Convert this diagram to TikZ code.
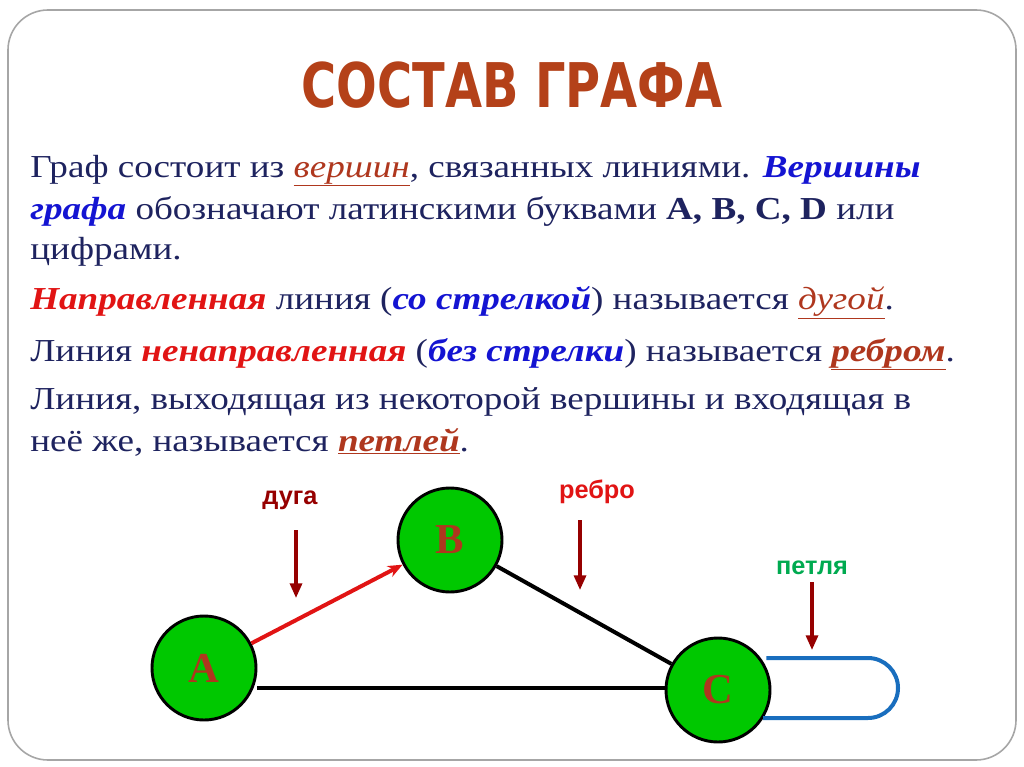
\documentclass[tikz,border=0pt]{standalone}
\usepackage{fontspec}
\setmainfont{Liberation Serif}
\newfontfamily\titlef{DejaVu Sans Condensed}
\newfontfamily\labf{Liberation Sans}
\usetikzlibrary{arrows.meta,shapes.geometric}
\definecolor{navy}{RGB}{30,35,95}
\definecolor{brn}{RGB}{175,55,30}
\definecolor{tbrn}{RGB}{180,65,25}
\definecolor{bl}{RGB}{20,20,210}
\definecolor{rd}{RGB}{225,20,20}
\definecolor{gr}{RGB}{0,200,0}
\definecolor{dred}{RGB}{150,0,0}
\definecolor{lgr}{RGB}{0,170,80}
\definecolor{lblue}{RGB}{25,110,190}
\newcommand{\uit}[1]{\textcolor{brn}{\underline{\textit{#1}}}}
\newcommand{\bit}[2]{\textcolor{#1}{\textbf{\textit{#2}}}}
\begin{document}
\begin{tikzpicture}[x=0.75pt,y=-0.75pt,
  txt/.style={anchor=base west,inner sep=0,text=navy,xscale=1.16,font=\fontsize{24}{28}\selectfont},
  vert/.style={ellipse,draw=black,line width=2.2pt,fill=gr,minimum width=104*0.75pt,minimum height=104*0.75pt,inner sep=0,font=\fontsize{32}{32}\selectfont\bfseries,text=brn},
  ptr/.style={draw=dred,line width=2.4pt,-{Triangle[length=11pt,width=9pt]}},
  lab/.style={font=\labf\bfseries\fontsize{19}{19}\selectfont,inner sep=0}]
\useasboundingbox (0,0) rectangle (1024,767);
\draw[gray!70,line width=1.2pt,rounded corners=30pt] (8,10) rectangle (1016,760);
\node[font=\titlef\bfseries\fontsize{42}{42}\selectfont,text=tbrn,xscale=0.95,yscale=1.1] (title) at (512,85) {СОСТАВ ГРАФА};
\node[txt] (l1) at (30,177) {Граф состоит из \uit{вершин}, связанных линиями. \bit{bl}{Вершины}};
\node[txt] (l2) at (30,219) {\bit{bl}{графа} обозначают латинскими буквами \textbf{A, B, C, D} или};
\node[txt] (l3) at (30,259) {цифрами.};
\node[txt] (l4) at (30,309) {\bit{rd}{Направленная} линия (\bit{bl}{со стрелкой}) называется \uit{дугой}.};
\node[txt] (l5) at (30,361) {Линия \bit{rd}{ненаправленная} (\bit{bl}{без стрелки}) называется \textbf{\uit{ребром}}.};
\node[txt] (l6) at (30,409) {Линия, выходящая из некоторой вершины и входящая в};
\node[txt] (l7) at (30,451) {неё же, называется \textbf{\uit{петлей}}.};
\node[vert] (A) at (204,668) {A};
\node[vert] (B) at (450,540) {B};
\node[vert] (C) at (718,690) {C};
\draw[lblue,line width=3pt] (C.east) ++(-5,-32) -- (868,658) arc[start angle=90,end angle=-90,radius=22.5pt] -- (763,718);
\draw[rd,line width=3pt,-{Stealth[length=11pt,width=9pt]}] (A) -- (B);
\draw[black,line width=3pt] (B) -- (C);
\draw[black,line width=3pt] (A.east |- 0,688) -- (C.west |- 0,688);
\node[lab,text=dred] (d) at (290,500) {дуга};
\node[lab,text=rd] (r) at (597,492) {ребро};
\node[lab,text=lgr] (p) at (812,568) {петля};
\coordinate (d1) at (296,530); \coordinate (d2) at (296,598);
\coordinate (r1) at (580,520); \coordinate (r2) at (580,590);
\coordinate (p1) at (812,582); \coordinate (p2) at (812,650);
\draw[ptr] (d1) -- (d2);
\draw[ptr] (r1) -- (r2);
\draw[ptr] (p1) -- (p2);
\end{tikzpicture}
\end{document}
